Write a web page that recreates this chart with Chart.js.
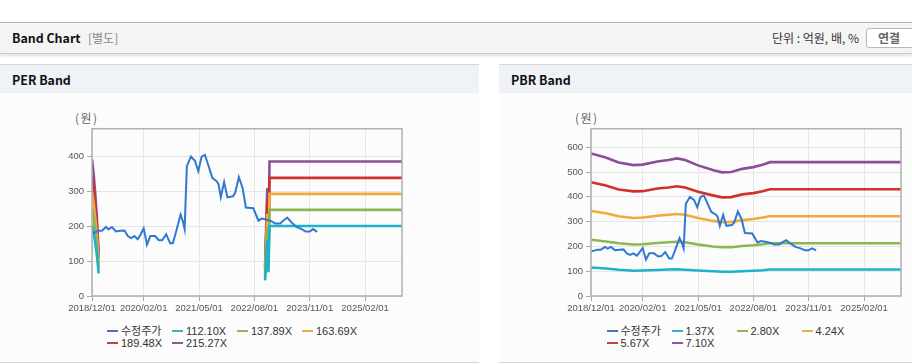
<!DOCTYPE html>
<html><head><meta charset="utf-8">
<script src="https://cdn.jsdelivr.net/npm/chart.js@4"></script>
<style>
html,body{margin:0;padding:0;background:#fff;}
body{width:912px;height:364px;overflow:hidden;position:relative;font-family:"Liberation Sans","Noto Sans CJK KR",sans-serif;}
.abs{position:absolute;}
#topbar{left:0;top:22px;width:912px;height:30px;border-top:1px solid #b3b3b3;background:#f4f4f4;border-bottom:1px solid #c9c9c9;box-shadow:0 2px 3px rgba(0,0,0,0.12);}
.ttl{font-family:"Noto Sans CJK KR","Noto Sans",sans-serif;font-weight:bold;font-size:12.4px;color:#111;line-height:16px;}
.panel{top:64px;height:297px;border-top:1px solid #d6d6d6;border-bottom:1px solid #d9d9d9;background:#fcfcfc;}
.phead{left:0;top:0;right:0;height:28px;background:#eff2f7;}
.unit{font-family:"Noto Sans CJK KR",sans-serif;font-size:12px;color:#333;line-height:14px;}
.won{font-family:"Noto Sans CJK KR",sans-serif;font-size:12px;color:#666;line-height:14px;letter-spacing:1.5px;}
.legend{font-size:11px;color:#333;line-height:13.3px;}
.legend .row{height:13.3px;white-space:nowrap;}
.legend .it{display:inline-block;width:65px;}
.legend .mk{display:inline-block;width:11px;height:2px;vertical-align:middle;margin-right:3px;position:relative;top:-1px;}
.kr{font-family:"Noto Sans CJK KR",sans-serif;}
</style></head><body>
<div id="topbar" class="abs"></div>
<div class="abs ttl" style="left:12px;top:30px;">Band Chart</div>
<div class="abs unit" style="left:88px;top:31px;color:#888;">[별도]</div>
<div class="abs unit" style="right:53px;top:31px;">단위 : 억원, 배, %</div>
<div class="abs" style="left:866px;top:28px;width:50px;height:18px;border:1px solid #b9b9b9;border-radius:3px;background:#fff;"></div>
<div class="abs unit" style="left:878px;top:31px;font-weight:bold;color:#666;">연결</div>

<div class="abs panel" style="left:0;width:479px;"><div class="abs phead"></div></div>
<div class="abs panel" style="left:499px;width:413px;"><div class="abs phead"></div></div>
<div class="abs ttl" style="left:12px;top:72px;">PER Band</div>
<div class="abs ttl" style="left:511px;top:72px;">PBR Band</div>
<div class="abs won" style="left:75px;top:111px;">(원)</div>
<div class="abs won" style="left:575px;top:111px;">(원)</div>

<canvas id="per" class="abs" style="left:0;top:120px;" width="420" height="200"></canvas>
<canvas id="pbr" class="abs" style="left:499px;top:120px;" width="413" height="200"></canvas>

<div id="perLegend" class="abs legend" style="left:107px;top:323.5px;"></div>
<div id="pbrLegend" class="abs legend" style="left:606.5px;top:323.5px;"></div>

<script>
// ---- x axis (months since 2018/12/01) ----
const xTickMonths = [0, 14, 29, 44, 59, 74];
const xTickLabels = ['2018/12/01','2020/02/01','2021/05/01','2022/08/01','2023/11/01','2025/02/01'];
const perYTicks = [0, 100, 200, 300, 400];
const pbrYTicks = [0, 100, 200, 300, 400, 500, 600];

// ---- adjusted price (수정주가) ----
const priceMonths = [0,1.0,1.6,2.7,3.8,4.5,5.4,6.5,7.7,8.8,9.7,10.6,11.5,12.4,13.1,14.0,14.9,15.8,17.1,18.1,19.0,20.1,21.2,21.9,22.6,24.0,24.6,25.1,25.7,26.8,27.9,28.8,29.7,30.6,31.5,32.6,33.8,34.3,34.9,35.8,36.7,38.2,38.8,39.8,40.8,41.7,43.7,45.1,46.0,46.9,48.7,49.6,51.0,51.8,52.9,54.1,55.4,56.8,57.9,59.0,59.9,61.0];
const priceValues = [180,183,187,187,198,191,198,185,187,188,172,166,172,163,175,194,147,172,172,160,160,177,151,151,177,234,215,192,372,400,388,358,400,405,376,339,329,320,283,327,283,286,296,341,310,254,252,216,222,220,214,208,208,216,225,211,198,192,185,185,192,184];

// ---- PER band ----
const perLabels = ['112.10X','137.89X','163.69X','189.48X','215.27X'];
const perBandMonths = [0,0.45,0.9,1.35,1.8,20,46.9,47.5,47.8,48.1,84];
const per112 = [204,182,151,115,65,null,45,161,68,201,201];
const per138 = [251,224,186,141,79,null,55,199,83,247,247];
const per164 = [298,266,221,167,94,null,65,236,99,293,293];
const per189 = [345,308,255,194,109,null,76,273,114,339,339];
const per215 = [392,350,290,220,124,null,86,310,130,386,386];

// ---- PBR band ----
const pbrLabels = ['1.37X','2.80X','4.24X','5.67X','7.10X'];
const pbrMonths = [0,4,7.5,11.5,14,18,21,23.3,25.5,29,33,35.5,38,41,44,46.5,48.5,84];
const pbr137 = [115,111,106,102,103,105,107,108,106,103,100,98,98,100,102,104,107,107];
const pbr280 = [227,220,213,208,209,214,217,219,217,208,200,197,197,202,205,209,213,213];
const pbr424 = [343,334,322,315,317,324,328,331,328,315,303,298,299,306,311,317,322,322];
const pbr567 = [459,446,430,422,423,434,438,443,438,421,406,398,399,410,415,423,431,431];
const pbr710 = [575,559,539,528,530,543,549,555,549,527,508,499,500,513,520,530,540,540];

const lineColors = ['#3079d0','#1bb3c7','#8cb651','#f2a93b','#d2302b','#8b4f97'];
const markColors = ['#4b74b8','#3cb2c2','#92b65b','#e9b04c','#c6403b','#8a5a9b'];

const pts = (xs, ys) => xs.map((x, i) => ({x: x, y: ys[i]}));

const frame = {
  id: 'frame',
  afterDatasetsDraw(chart) {
    const {ctx, chartArea: a} = chart;
    ctx.save();
    ctx.strokeStyle = '#afafaf';
    ctx.lineWidth = 1.5;
    ctx.strokeRect(a.left, a.top, a.right - a.left, a.bottom - a.top);
    ctx.restore();
  }
};

function makeChart(id, bandMonths, bands, bandLabels, yMax, yTicks, padRight) {
  const datasets = [{
    label: '수정주가', data: pts(priceMonths, priceValues),
    borderColor: lineColors[0], borderWidth: 2, pointRadius: 0, tension: 0
  }];
  bands.forEach((b, i) => datasets.push({
    label: bandLabels[i], data: pts(bandMonths, b),
    borderColor: lineColors[i + 1], borderWidth: 2.6, pointRadius: 0, tension: 0, spanGaps: false
  }));
  const tickFont = {family: '"Liberation Sans", Arial, sans-serif', size: 9.5};
  return new Chart(document.getElementById(id), {
    type: 'line',
    data: {datasets},
    plugins: [frame],
    options: {
      responsive: false, animation: false, events: [],
      layout: {padding: {top: 8, right: padRight, bottom: 0, left: 0}},
      plugins: {legend: {display: false}, tooltip: {enabled: false}},
      scales: {
        x: {
          type: 'linear', min: 0, max: 84,
          afterBuildTicks: ax => { ax.ticks = xTickMonths.map(v => ({value: v})); },
          afterFit: s => { s.height = 24; },
          ticks: {callback: v => xTickLabels[xTickMonths.indexOf(v)], autoSkip: false, maxRotation: 0, font: tickFont, color: '#555', padding: 2},
          grid: {color: '#e6e6e6', tickColor: '#aaa', tickLength: 5},
          border: {display: false}
        },
        y: {
          type: 'linear', min: 0, max: yMax,
          afterBuildTicks: ax => { ax.ticks = yTicks.map(v => ({value: v})); },
          afterFit: s => { s.width = 92; },
          ticks: {font: tickFont, color: '#555', padding: 3},
          grid: {color: '#e6e6e6', tickColor: '#aaa', tickLength: 5},
          border: {display: false}
        }
      }
    }
  });
}

makeChart('per', perBandMonths, [per112, per138, per164, per189, per215], perLabels, 480, perYTicks, 18);
makeChart('pbr', pbrMonths, [pbr137, pbr280, pbr424, pbr567, pbr710], pbrLabels, 675, pbrYTicks, 11);

function legend(id, bandLabels) {
  const names = ['수정주가'].concat(bandLabels);
  const el = document.getElementById(id);
  const rows = [names.slice(0, 4), names.slice(4)];
  let k = 0;
  rows.forEach(r => {
    const row = document.createElement('div');
    row.className = 'row';
    r.forEach(n => {
      const it = document.createElement('span');
      it.className = 'it';
      const mk = document.createElement('span');
      mk.className = 'mk';
      mk.style.background = markColors[k];
      const tx = document.createElement('span');
      tx.textContent = n;
      if (k === 0) tx.className = 'kr';
      it.appendChild(mk); it.appendChild(tx);
      row.appendChild(it);
      k++;
    });
    el.appendChild(row);
  });
}
legend('perLegend', perLabels);
legend('pbrLegend', pbrLabels);
</script>
</body></html>
